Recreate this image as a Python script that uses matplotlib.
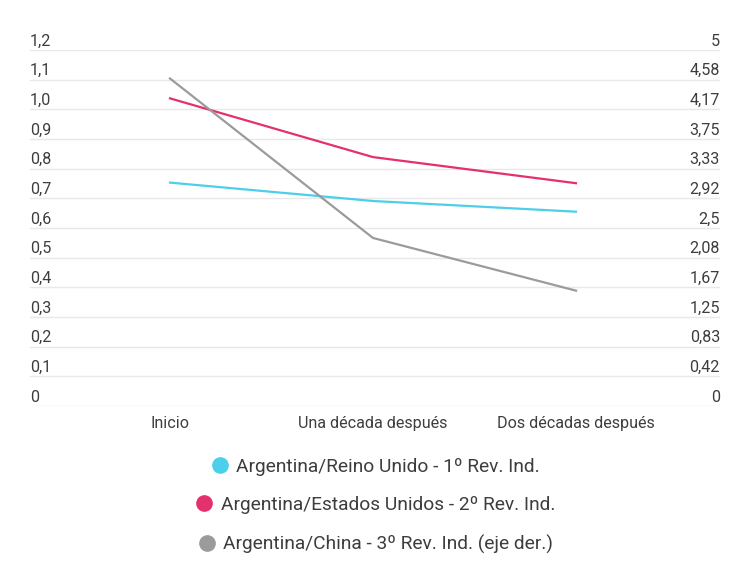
import numpy as np
import matplotlib.pyplot as plt
from matplotlib.lines import Line2D
import matplotlib.transforms as mtransforms

plt.rcParams['font.family'] = ['Roboto', 'DejaVu Sans']

categorias = ['Inicio', 'Una década después', 'Dos décadas después']
reino_unido = [0.753, 0.691, 0.655]
estados_unidos = [1.037, 0.839, 0.751]
china = [4.60, 2.36, 1.62]  # eje derecho

nombres = ['Argentina/Reino Unido - 1º Rev. Ind.',
           'Argentina/Estados Unidos - 2º Rev. Ind.',
           'Argentina/China - 3º Rev. Ind. (eje der.)']
colores = ['#4dcfe9', '#e5306e', '#9b9b9b']
texto = '#3d3d3d'

fig = plt.figure(figsize=(7.5, 5.86), dpi=100)
ax = fig.add_axes([30/750, 1 - 406/586, 690/750, 356/586])
ax2 = ax.twinx()

x = np.arange(len(categorias))
ax.plot(x, reino_unido, c=colores[0], lw=1.6)
ax.plot(x, estados_unidos, c=colores[1], lw=1.6)
ax2.plot(x, china, c=colores[2], lw=1.6)

ax.set_xlim(-140/203, 2 + 144/203)
ax.set_ylim(0, 1.2)
ax2.set_ylim(0, 5)

izq = np.round(np.arange(0, 1.21, 0.1), 1)
ax.set_yticks(izq)
ax.set_yticklabels(['0' if v == 0 else f'{v:.1f}'.replace('.', ',') for v in izq])
der = np.linspace(0, 5, 13)
ax2.set_yticks(der)
ax2.set_yticklabels([f'{v:.2f}'.rstrip('0').rstrip('.').replace('.', ',') for v in der])

ax.set_xticks(x)
ax.set_xticklabels(categorias)
ax.grid(axis='y', color='#e8e8e8', lw=1)
ax.set_axisbelow(True)

for a in (ax, ax2):
    for s in a.spines.values():
        s.set_visible(False)
    a.tick_params(length=0, labelsize=11.6, labelcolor=texto)

ax.tick_params(axis='x', pad=7)
ax.tick_params(axis='y', pad=0)
ax2.tick_params(axis='y', pad=0)
off = mtransforms.ScaledTranslation(0, 1/72, fig.dpi_scale_trans)
for t in ax.get_yticklabels():
    t.set_ha('left')
    t.set_va('bottom')
    t.set_transform(t.get_transform() + off)
for t in ax2.get_yticklabels():
    t.set_ha('right')
    t.set_va('bottom')
    t.set_transform(t.get_transform() + off)

ys = [467, 505, 544]
for nombre, color, y in zip(nombres, colores, ys):
    h = Line2D([], [], ls='none', marker='o', ms=11, mfc=color, mec=color)
    fig.legend([h], [nombre], loc='center', bbox_to_anchor=(0.5, 1 - y/586),
               frameon=False, fontsize=13.8, labelcolor=texto,
               handletextpad=0.35, handlelength=1.0)

fig.savefig('out.png', dpi=100)
